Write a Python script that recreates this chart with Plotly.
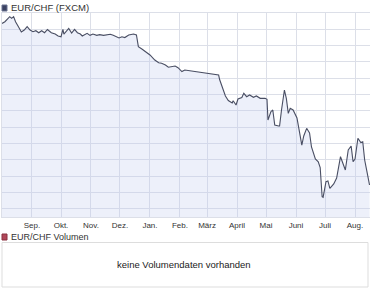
import plotly.graph_objects as go

dates = [
    "2009-08-01", "2009-08-04", "2009-08-09", "2009-08-11", "2009-08-13", "2009-08-15",
    "2009-08-18", "2009-08-21", "2009-08-24", "2009-08-27", "2009-08-30", "2009-09-02",
    "2009-09-05", "2009-09-08", "2009-09-11", "2009-09-14", "2009-09-17", "2009-09-21",
    "2009-09-25", "2009-09-28", "2009-10-01", "2009-10-03", "2009-10-04", "2009-10-09",
    "2009-10-12", "2009-10-15", "2009-10-18", "2009-10-21", "2009-10-23", "2009-10-26",
    "2009-10-28", "2009-10-31", "2009-11-03", "2009-11-07", "2009-11-10", "2009-11-14",
    "2009-11-17", "2009-11-21", "2009-11-24", "2009-11-28", "2009-11-30", "2009-12-03",
    "2009-12-06", "2009-12-10", "2009-12-15", "2009-12-18", "2009-12-20", "2009-12-24",
    "2009-12-27", "2010-01-01", "2010-01-06", "2010-01-10", "2010-01-13", "2010-01-17",
    "2010-01-20", "2010-01-24", "2010-01-27", "2010-01-30", "2010-02-03", "2010-02-06",
    "2010-02-11", "2010-02-17", "2010-02-22", "2010-02-27", "2010-03-04", "2010-03-09",
    "2010-03-13", "2010-03-14", "2010-03-17", "2010-03-20", "2010-03-23", "2010-03-27",
    "2010-03-28", "2010-03-31", "2010-04-02", "2010-04-06", "2010-04-08", "2010-04-11",
    "2010-04-14", "2010-04-18", "2010-04-21", "2010-04-25", "2010-04-30", "2010-05-02",
    "2010-05-03", "2010-05-06", "2010-05-08", "2010-05-10", "2010-05-14", "2010-05-15",
    "2010-05-17", "2010-05-20", "2010-05-22", "2010-05-24", "2010-05-26", "2010-05-29",
    "2010-06-02", "2010-06-04", "2010-06-07", "2010-06-09", "2010-06-12", "2010-06-15",
    "2010-06-17", "2010-06-21", "2010-06-24", "2010-06-26", "2010-06-28", "2010-06-29",
    "2010-07-02", "2010-07-04", "2010-07-06", "2010-07-10", "2010-07-13", "2010-07-17",
    "2010-07-19", "2010-07-22", "2010-07-25", "2010-07-28", "2010-07-30", "2010-08-01",
    "2010-08-04", "2010-08-07", "2010-08-09", "2010-08-11", "2010-08-13", "2010-08-16",
]

rates = [
    1.5271, 1.5293, 1.5355, 1.5335, 1.5355, 1.5293,
    1.5232, 1.5167, 1.5191, 1.5232, 1.5191, 1.5171,
    1.5183, 1.5158, 1.5183, 1.5158, 1.5198, 1.5158,
    1.5142, 1.5118, 1.5109, 1.5198, 1.5142, 1.5210,
    1.5155, 1.5200, 1.5158, 1.5142, 1.5118, 1.5142,
    1.5151, 1.5126, 1.5142, 1.5126, 1.5134, 1.5126,
    1.5130, 1.5139, 1.5126, 1.5109, 1.5093, 1.5109,
    1.5099, 1.5130, 1.5142, 1.5130, 1.4987, 1.4955,
    1.4925, 1.4885, 1.4823, 1.4790, 1.4783, 1.4762,
    1.4734, 1.4746, 1.4750, 1.4729, 1.4682, 1.4701,
    1.4692, 1.4680, 1.4668, 1.4660, 1.4652, 1.4648,
    1.4639, 1.4584, 1.4480, 1.4382, 1.4326, 1.4296,
    1.4324, 1.4271, 1.4345, 1.4363, 1.4415, 1.4373,
    1.4394, 1.4366, 1.4382, 1.4353, 1.4353, 1.4341,
    1.4087, 1.4189, 1.4210, 1.4026, 1.4014, 1.4014,
    1.4210, 1.4455, 1.4353, 1.4169, 1.4231, 1.4210,
    1.4112, 1.3964, 1.3780, 1.3891, 1.3985, 1.3928,
    1.3756, 1.3609, 1.3575, 1.3504, 1.3146, 1.3139,
    1.3330, 1.3339, 1.3249, 1.3302, 1.3375, 1.3637,
    1.3560, 1.3474, 1.3719, 1.3768, 1.3575, 1.3609,
    1.3863, 1.3811, 1.3821, 1.3596, 1.3474, 1.3290,
]

month_ticks = ["2009-09-01", "2009-10-01", "2009-11-01", "2009-12-01", "2010-01-01",
               "2010-02-01", "2010-03-01", "2010-04-01", "2010-05-01", "2010-06-01",
               "2010-07-01", "2010-08-01"]
month_labels = ["Sep.", "Okt.", "Nov.", "Dez.", "Jan.", "Feb.", "März", "April",
                "Mai", "Juni", "Juli", "Aug."]

title_main = "EUR/CHF (FXCM)"
title_vol = "EUR/CHF Volumen"
no_vol_text = "keine Volumendaten vorhanden"

W, H = 370, 297
L, R, T, B = 2, 0, 13, 80
PW, PH = W - L - R, H - T - B


def px(x):
    return (x - L) / PW


def py(y):
    return (H - B - y) / PH


fig = go.Figure()
fig.add_trace(go.Scatter(
    x=dates, y=rates, mode="lines",
    line=dict(color="#494e63", width=1.1),
    fill="tozeroy", fillcolor="rgba(196,204,240,0.3)",
    hoverinfo="skip", showlegend=False,
))

grid = "#dcdfe8"
fig.update_xaxes(
    range=["2009-08-01", "2010-08-16 12:00"],
    tickvals=month_ticks, ticktext=month_labels,
    showgrid=True, gridcolor=grid, gridwidth=1,
    showline=True, linecolor=grid, mirror=True,
    ticks="", tickfont=dict(family="Liberation Sans, Arial", size=8, color="#333333"),
    zeroline=False,
)
fig.update_yaxes(
    range=[1.2897, 1.54], dtick=0.02, tick0=1.30,
    showgrid=True, gridcolor=grid, gridwidth=1,
    showticklabels=False, ticks="", zeroline=False,
    showline=True, linecolor=grid, mirror=True,
)

shapes = [
    dict(type="rect", xref="paper", yref="paper", x0=px(2), x1=px(7), y0=py(11), y1=py(5),
         fillcolor="#3b4262", line=dict(color="#6b7290", width=1)),
    dict(type="rect", xref="paper", yref="paper", x0=px(2), x1=px(7), y0=py(240), y1=py(234),
         fillcolor="#b0475a", line=dict(color="#8a3040", width=1)),
    dict(type="rect", xref="paper", yref="paper", x0=px(2), x1=px(368), y0=py(287), y1=py(242.5),
         fillcolor="white", line=dict(color="#dddddd", width=1)),
]

annotations = [
    dict(text=title_main, xref="paper", yref="paper", x=px(9), y=py(7.5),
         xanchor="left", yanchor="middle", showarrow=False,
         font=dict(family="Liberation Sans, Arial", size=9.5, color="#333333")),
    dict(text=title_vol, xref="paper", yref="paper", x=px(9), y=py(237),
         xanchor="left", yanchor="middle", showarrow=False,
         font=dict(family="Liberation Sans, Arial", size=9, color="#333333")),
    dict(text=no_vol_text, xref="paper", yref="paper", x=px(184), y=py(264.5),
         xanchor="center", yanchor="middle", showarrow=False,
         font=dict(family="Liberation Sans, Arial", size=9.5, color="#222222")),
]

fig.update_layout(
    width=W, height=H,
    margin=dict(l=L, r=R, t=T, b=B, pad=0),
    paper_bgcolor="white", plot_bgcolor="white",
    shapes=shapes, annotations=annotations,
    showlegend=False,
)

fig.write_html("out.html", config={"displayModeBar": False})
